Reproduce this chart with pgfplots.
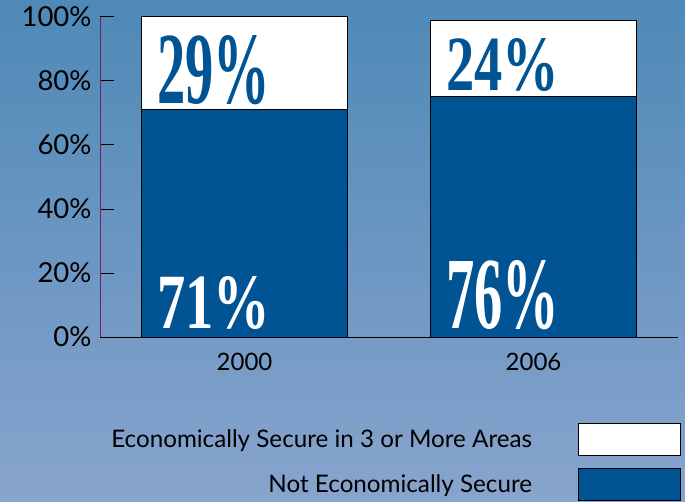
\documentclass[border=0pt]{standalone}
\usepackage{pgfplots}
\pgfplotsset{compat=1.18}
\usepackage{fontspec}
\setmainfont{Lato}
\newfontfamily\numfont{Liberation Serif}
\usepackage{graphicx}
\definecolor{bgtop}{RGB}{78,137,183}
\definecolor{bgbot}{RGB}{136,164,205}
\definecolor{barblue}{RGB}{0,84,148}
\definecolor{axmaroon}{RGB}{128,30,90}
\begin{document}
\begin{tikzpicture}[x=1pt,y=1pt]
\shade[top color=bgtop,bottom color=bgbot] (0,0) rectangle (685,501);
\useasboundingbox (0,0) rectangle (685,501);
\begin{axis}[at={(100pt,164pt)}, anchor=south west, scale only axis,
  width=578pt, height=320pt,
  xmin=-0.5, xmax=1.5, ymin=0, ymax=100,
  ybar stacked, bar width=206pt,
  axis x line=bottom, axis y line=left,
  x axis line style={black,-,line width=1pt},
  y axis line style={axmaroon,-,line width=1pt},
  tick align=inside,
  major tick length=14pt,
  minor tick length=8pt,
  ytick={0,20,...,100},
  yticklabel={\pgfmathprintnumber{\tick}\%},
  ytick style={black,line width=1pt},
  xtick=\empty,
  minor xtick={0.5,1.5},
  xtick style={black,line width=1pt},
  extra x ticks={0,1}, extra x tick labels={2000,2006},
  extra x tick style={major tick length=0pt},
  /pgf/number format/assume math mode=true,
  yticklabel style={font=\fontsize{27.5}{32}\selectfont, text=black, xshift=-5pt},
  xticklabel style={font=\fontsize{24}{28}\selectfont, text=black, yshift=-13pt},
  legend style={draw=none, fill=none, inner sep=0pt, outer sep=0pt,
    at={(1.0052,-0.5125)}, anchor=south east, column sep=44pt, row sep=12pt,
    font=\fontsize{24.2}{28}\selectfont, text=black},
  legend cell align=right,
  legend plot pos=right,
  reverse legend,
]
\addplot[fill=barblue, draw=black, line width=1pt,
  legend image code/.code={\path[fill=barblue] (0pt,-16pt) rectangle (102pt,16pt);}]
  coordinates {(0,71) (1,75)};
\addlegendentry{Not Economically Secure}
\addplot[fill=white, draw=black, line width=1pt,
  legend image code/.code={\path[fill=white] (0pt,-16pt) rectangle (102pt,16pt);}]
  coordinates {(0,29) (1,24)};
\addlegendentry{Economically Secure in 3 or More Areas}
\coordinate (l71) at (axis cs:-0.303,2.8);
\coordinate (l29) at (axis cs:-0.303,73.1);
\coordinate (l76) at (axis cs:0.697,2.8);
\coordinate (l24) at (axis cs:0.697,76.9);
\end{axis}
\node[anchor=base west, inner sep=0pt, text=white] at (l71)
  {\resizebox{113pt}{52pt}{\numfont\bfseries 71\%}};
\node[anchor=base west, inner sep=0pt, text=barblue] at (l29)
  {\resizebox{113pt}{68pt}{\numfont\bfseries 29\%}};
\node[anchor=base west, inner sep=0pt, text=white] at (l76)
  {\resizebox{113pt}{68pt}{\numfont\bfseries 76\%}};
\node[anchor=base west, inner sep=0pt, text=barblue] at (l24)
  {\resizebox{113pt}{52pt}{\numfont\bfseries 24\%}};
\end{tikzpicture}
\end{document}
